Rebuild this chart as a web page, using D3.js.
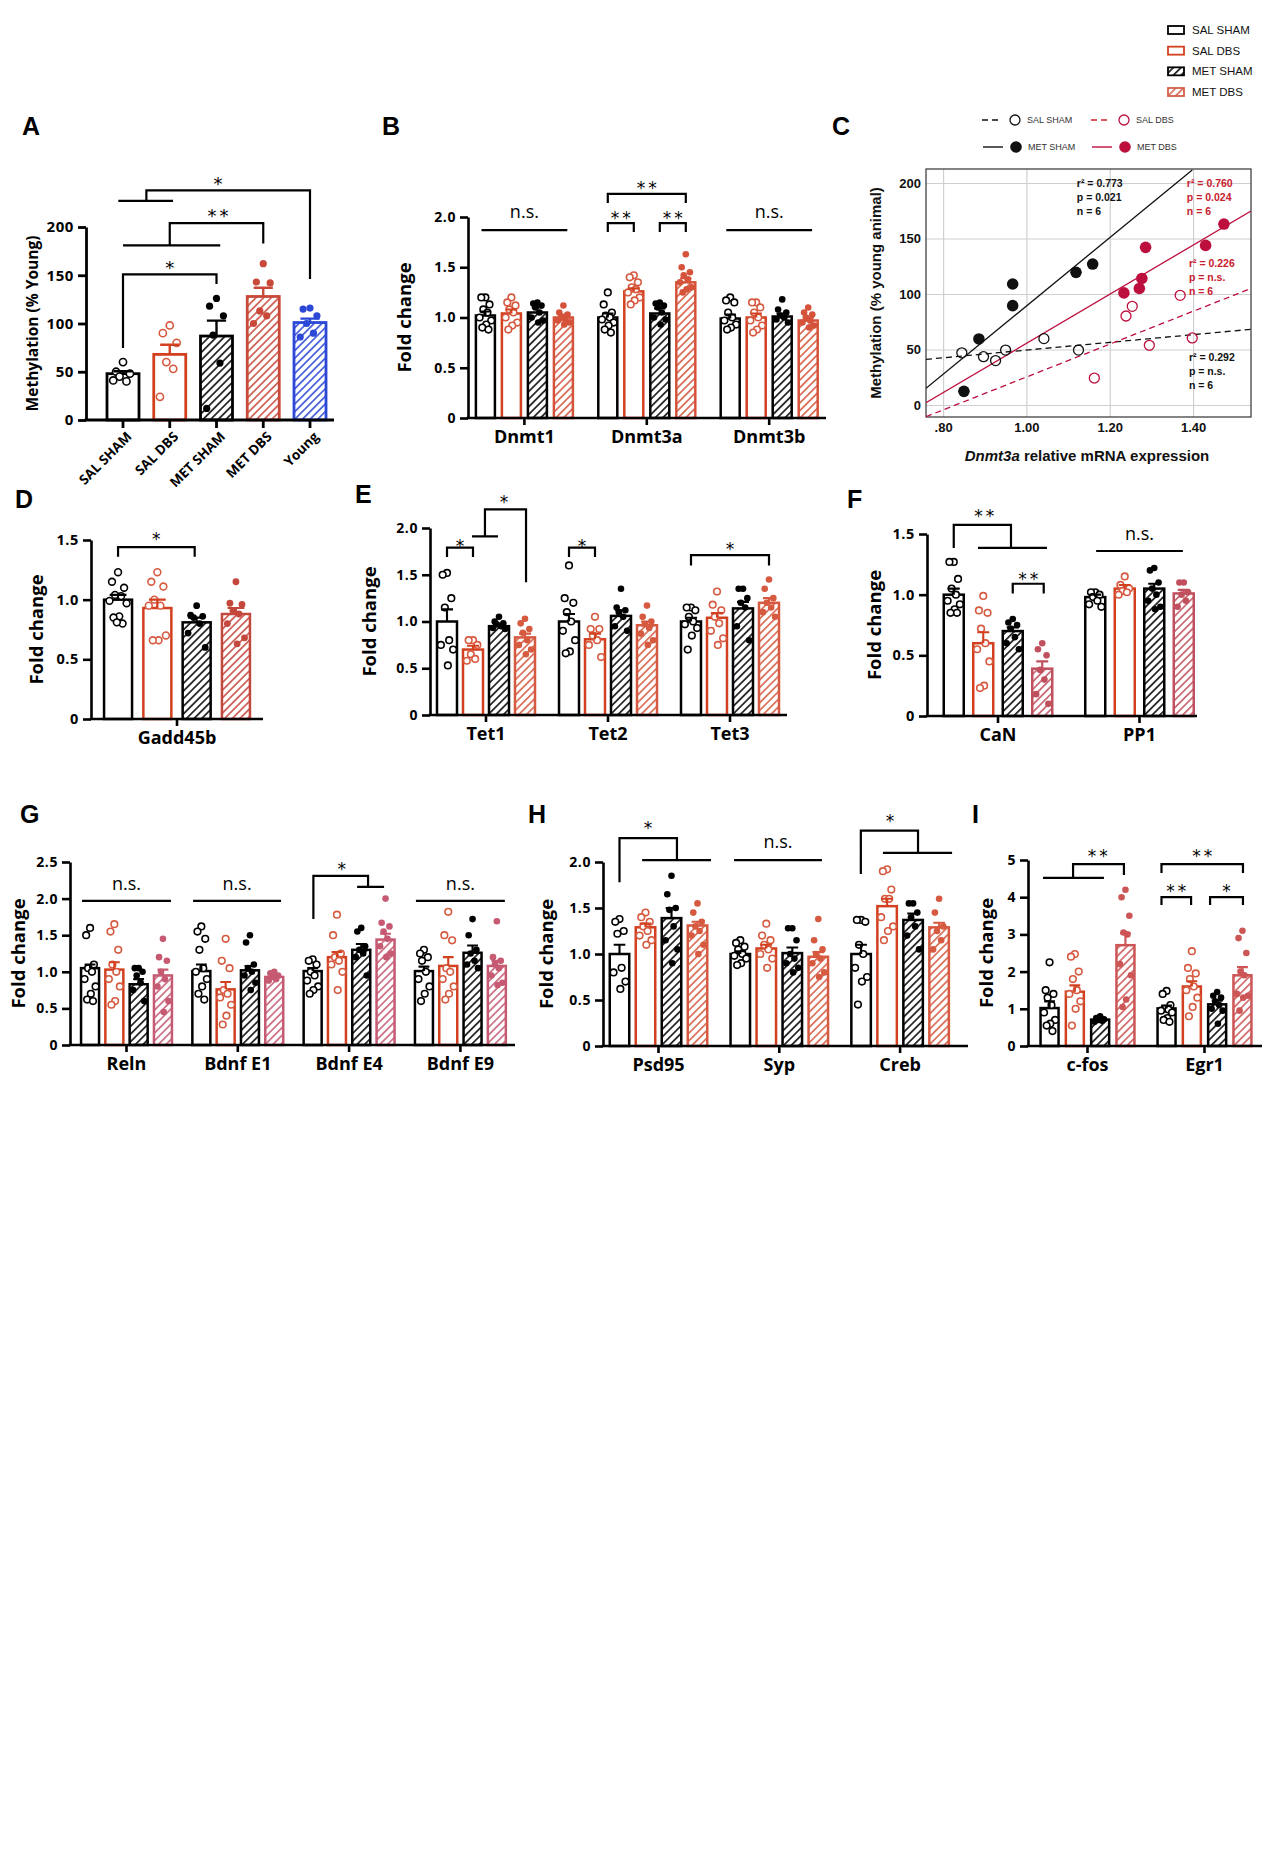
<!DOCTYPE html>
<html><head><meta charset="utf-8">
<script src="https://cdn.jsdelivr.net/npm/d3@7"></script>
<style>body{margin:0;background:#fff}svg{display:block}</style>
</head><body>
<svg id="fig" width="1286" height="1857"></svg>
<script>
// ================= DATA =================
const SERIES = ["SAL SHAM","SAL DBS","MET SHAM","MET DBS"];

// Panel A
const aCategories = ["SAL SHAM","SAL DBS","MET SHAM","MET DBS","Young"];
const aMeans = [48,68,87,128,101];
const aErrors = [2.5,10,16,9,4];
const aPoints = [[60,50,48,45,40,41],[98,90,80,60,53,24],[126,118,108,88,59,12],[162,143,142,113,108,100],[116,115,108,100,90,86]];
const aTicks = [0,50,100,150,200];

// Panel B
const bGenes = ["Dnmt1","Dnmt3a","Dnmt3b"];
const bMeans = [[1.02,1.04,1.05,1.00],[1.00,1.26,1.04,1.35],[0.99,1.00,1.01,0.97]];
const bErrors = [[0.04,0.04,0.05,0.03],[0.04,0.03,0.05,0.04],[0.04,0.04,0.03,0.03]];
const bPoints = [
 [[1.2,1.2,1.13,1.08,1.05,1.0,0.97,0.93,0.9,0.88],[1.2,1.15,1.12,1.08,1.05,1.0,0.95,0.92,0.88],[1.15,1.14,1.12,1.1,1.05,1.0,0.97,0.95],[1.12,1.05,1.03,1.0,0.98,0.97,0.95,0.93]],
 [[1.25,1.13,1.05,1.02,1.0,0.98,0.95,0.92,0.88,0.85],[1.42,1.4,1.35,1.3,1.28,1.25,1.2,1.17,1.13],[1.15,1.14,1.12,1.1,1.05,1.0,0.98,0.93],[1.63,1.5,1.45,1.42,1.38,1.35,1.3,1.28,1.25]],
 [[1.2,1.17,1.15,1.05,1.0,0.97,0.93,0.9,0.88],[1.15,1.15,1.1,1.05,1.0,0.97,0.92,0.88,0.85],[1.18,1.08,1.05,1.02,1.0,0.98,0.95],[1.1,1.05,1.03,1.0,0.97,0.95,0.92,0.9]]
];
const foldTicks2 = [0,0.5,1.0,1.5,2.0];
const foldTicks15 = [0,0.5,1.0,1.5];
const foldTicks25 = [0,0.5,1.0,1.5,2.0,2.5];
const foldTicks5 = [0,1,2,3,4,5];

// Panel C
const cSalShamX = [0.845,0.897,0.926,0.950,1.042,1.125];
const cSalShamY = [47,43.5,40,49.5,59.8,49.5];
const cMetShamX = [0.850,0.886,0.967,0.967,1.119,1.159];
const cMetShamY = [12.3,59.5,89.5,109,119.5,127];
const cSalDbsX = [1.163,1.239,1.254,1.295,1.369,1.398];
const cSalDbsY = [24.3,80.2,88.9,53.8,98.8,60.4];
const cMetDbsX = [1.234,1.271,1.277,1.286,1.430,1.474];
const cMetDbsY = [101,105,114,142,143.8,163];
const cFitX = {"SAL SHAM":[0.759,1.539],"MET SHAM":[0.759,1.398],"SAL DBS":[0.759,1.539],"MET DBS":[0.759,1.539]};
const cFitY = {"SAL SHAM":[41.1,68.2],"MET SHAM":[15,211.7],"SAL DBS":[-10.5,105],"MET DBS":[2.1,174.8]};
const cStatsText = [["r² = 0.773","p = 0.021","n = 6"],["r² = 0.760","p = 0.024","n = 6"],["r² = 0.226","p = n.s.","n = 6"],["r² = 0.292","p = n.s.","n = 6"]];
const cXTicks = [0.8,1.0,1.2,1.4];
const cYTicks = [0,50,100,150,200];

// Panel D
const dGenes = ["Gadd45b"];
const dMeans = [[1.0,0.93,0.81,0.88]];
const dErrors = [[0.04,0.07,0.04,0.05]];
const dPoints = [[[1.23,1.15,1.10,1.04,1.03,0.99,0.97,0.86,0.85,0.80,0.81],[1.23,1.15,1.11,1.0,0.95,0.95,0.70,0.66,0.66],[0.95,0.87,0.86,0.85,0.80,0.72,0.60],[1.15,0.97,0.96,0.91,0.88,0.80,0.68,0.63]]];

// Panel E
const eGenes = ["Tet1","Tet2","Tet3"];
const eMeans = [[1.0,0.70,0.95,0.83],[1.0,0.81,1.06,0.96],[1.0,1.04,1.14,1.2]];
const eErrors = [[0.13,0.04,0.02,0.04],[0.08,0.06,0.06,0.04],[0.04,0.05,0.07,0.05]];
const ePoints = [
 [[1.52,1.5,1.25,1.15,0.8,0.75,0.7,0.53],[0.8,0.8,0.75,0.65,0.6,0.58],[1.05,1.0,0.98,0.97,0.95,0.93,0.92],[1.03,0.98,0.92,0.88,0.8,0.75,0.7,0.65]],
 [[1.6,1.25,1.2,1.1,1.0,0.9,0.8,0.68,0.66],[1.05,0.92,0.92,0.85,0.8,0.75,0.62],[1.35,1.15,1.12,1.1,1.05,0.95,0.9],[1.17,1.05,1.0,0.97,0.93,0.87,0.8,0.75]],
 [[1.15,1.15,1.12,1.05,1.0,0.97,0.93,0.85,0.7],[1.32,1.18,1.12,1.05,0.98,0.9,0.82,0.75],[1.35,1.35,1.25,1.2,1.15,0.95,0.8],[1.45,1.35,1.25,1.2,1.15,1.1,1.05]]
];

// Panel F
const fGenes = ["CaN","PP1"];
const fMeans = [[1.0,0.6,0.7,0.39],[0.98,1.05,1.05,1.01]];
const fErrors = [[0.05,0.09,0.03,0.06],[0.02,0.03,0.04,0.03]];
const fPoints = [
 [[1.27,1.27,1.13,1.05,1.0,0.95,0.92,0.88,0.85,0.85],[0.99,0.87,0.85,0.72,0.6,0.55,0.45,0.25,0.23],[0.8,0.77,0.75,0.72,0.65,0.6,0.55],[0.6,0.55,0.5,0.38,0.3,0.18,0.1]],
 [[1.02,1.02,1.0,0.98,0.95,0.92,0.9],[1.15,1.08,1.05,1.03,1.02,1.0],[1.22,1.2,1.1,1.05,1.0,0.95,0.9,0.88],[1.1,1.1,1.02,1.0,0.95,0.9]]
];

// Panel G
const gGenes = ["Reln","Bdnf E1","Bdnf E4","Bdnf E9"];
const gMeans = [[1.05,1.03,0.83,0.95],[1.01,0.76,1.02,0.93],[1.01,1.2,1.3,1.44],[1.01,1.08,1.26,1.08]];
const gErrors = [[0.05,0.1,0.07,0.08],[0.09,0.1,0.06,0.04],[0.04,0.07,0.08,0.08],[0.06,0.12,0.1,0.07]];
const gPoints = [
 [[1.6,1.5,1.1,1.05,1.0,0.9,0.8,0.7,0.62,0.6],[1.65,1.55,1.3,1.1,1.0,0.9,0.8,0.6,0.55],[1.05,1.05,1.0,0.95,0.85,0.75,0.6],[1.45,1.2,1.15,1.0,0.9,0.8,0.6,0.45]],
 [[1.62,1.55,1.45,1.3,1.05,1.0,0.9,0.8,0.7,0.62],[1.45,1.15,1.05,0.75,0.7,0.65,0.55,0.4,0.28],[1.5,1.4,1.1,1.05,1.0,0.95,0.85,0.75],[1.0,0.98,0.95,0.93,0.9,0.88]],
 [[1.17,1.15,1.1,1.0,0.95,0.88,0.8,0.75,0.7],[1.78,1.5,1.25,1.2,1.15,1.1,1.0,0.75],[1.6,1.55,1.35,1.3,1.25,1.2,0.95],[2.0,1.67,1.62,1.55,1.45,1.35,1.25,1.2]],
 [[1.3,1.25,1.2,1.15,1.0,0.9,0.8,0.7,0.6],[1.82,1.5,1.43,1.05,1.0,0.9,0.8,0.7,0.62],[1.72,1.5,1.3,1.25,1.15,1.1,1.05],[1.69,1.2,1.15,1.1,1.05,0.95,0.85,0.82]]
];

// Panel H
const hGenes = ["Psd95","Syp","Creb"];
const hMeans = [[1.0,1.29,1.39,1.31],[1.0,1.06,1.01,0.97],[1.0,1.52,1.37,1.29]];
const hErrors = [[0.1,0.04,0.11,0.04],[0.03,0.04,0.06,0.05],[0.1,0.08,0.07,0.05]];
const hPoints = [
 [[1.38,1.35,1.25,1.22,0.85,0.8,0.7,0.62],[1.45,1.4,1.35,1.3,1.25,1.2,1.15,1.1],[1.85,1.65,1.5,1.48,1.3,1.15,1.05,0.9],[1.55,1.45,1.35,1.3,1.25,1.2,1.1,1.0]],
 [[1.15,1.12,1.08,1.05,1.0,0.98,0.95,0.9,0.88],[1.33,1.2,1.15,1.1,1.05,1.0,0.95,0.85],[1.28,1.28,1.15,1.0,0.95,0.9,0.85,0.8],[1.38,1.15,1.05,1.0,0.95,0.9,0.8,0.75]],
 [[1.37,1.37,1.35,1.1,1.0,0.85,0.75,0.7,0.45],[1.92,1.9,1.7,1.6,1.6,1.4,1.3,1.25,1.15],[1.55,1.55,1.45,1.4,1.3,1.2,1.05],[1.6,1.45,1.3,1.25,1.15,1.05]]
];

// Panel I
const iGenes = ["c-fos","Egr1"];
const iMeans = [[1.02,1.46,0.71,2.71],[1.01,1.6,1.12,1.9]];
const iErrors = [[0.18,0.17,0.05,0.32],[0.08,0.14,0.1,0.22]];
const iPoints = [
 [[2.25,1.5,1.4,1.3,1.1,0.9,0.7,0.6,0.55,0.4],[2.47,2.4,2.0,1.8,1.5,1.4,1.2,1.0,0.55],[0.8,0.75,0.72,0.7,0.68,0.65],[4.2,4.0,3.5,3.05,3.0,2.2,1.9,1.25,1.05]],
 [[1.48,1.4,1.1,1.0,0.98,0.95,0.9,0.75,0.7,0.65],[2.55,2.1,1.95,1.8,1.6,1.5,1.3,1.05,0.8],[1.45,1.35,1.3,1.2,1.1,1.0,0.95,0.6],[3.1,2.9,2.5,2.0,1.9,1.4,1.35,1.3,0.95]]
];

// ================= DRAWING =================
const svg = d3.select("#fig");
const defs = svg.append("defs");
const FONT = "'Open Sans', 'Noto Sans', sans-serif";
const ARIAL = "'Liberation Sans', Arial, sans-serif";
const RED = "#d2401f", RED_PT = "#d65a40";

function hatch(color){
  const id = "h" + color.replace("#","");
  if (defs.select("#"+id).empty()){
    const s = 5.4;
    const p = defs.append("pattern").attr("id",id).attr("patternUnits","userSpaceOnUse")
      .attr("width",s).attr("height",s).attr("patternTransform","rotate(45)");
    p.append("rect").attr("width",s).attr("height",s).attr("fill","#fff");
    p.append("line").attr("x1",s/2).attr("x2",s/2).attr("y1",-1).attr("y2",s+1).attr("stroke",color).attr("stroke-width",1.5);
  }
  return `url(#${id})`;
}
function stdStyles(md){
  return [
    {color:"#000", hatch:false, pt:"#000", filled:false},
    {color:RED, hatch:false, pt:RED_PT, filled:false},
    {color:"#000", hatch:true, pt:"#000", filled:true},
    {color:md, hatch:true, pt:md, filled:true}
  ];
}
function letter(t,x,y){
  svg.append("text").attr("x",x).attr("y",y).text(t).attr("font-family",ARIAL)
    .attr("font-weight","bold").attr("font-size",25).attr("fill","#000");
}
const J = [0,-0.6,0.6,-0.3,0.3,-0.85,0.85,0.12,-0.45,0.45,-0.12];

function barPanel(cfg, groups, means, errs, pts){
  const g = svg.append("g");
  const y = d3.scaleLinear().domain([0,cfg.yMax]).range([cfg.y0,cfg.yTop]);
  const nS = cfg.styles.length;
  const gx = d3.scaleBand().domain(groups).range([cfg.gc0 - cfg.gstep/2, cfg.gc0 + (groups.length-0.5)*cfg.gstep]);
  const sx = d3.scaleBand().domain(d3.range(nS)).range([-nS/2*cfg.bs, nS/2*cfg.bs])
    .paddingInner(1-cfg.bw/cfg.bs).paddingOuter((1-cfg.bw/cfg.bs)/2);
  const sl = d3.scaleLinear().domain([0,nS-1]).range([-(nS-1)/2*cfg.bs,(nS-1)/2*cfg.bs]);
  const gc = i => gx(groups[i]) + gx.bandwidth()/2;
  const xAt = (i,s) => gc(i) + sl(s);
  const bw = sx.bandwidth();

  groups.forEach((gn,gi)=>{
    means[gi].forEach((m,si)=>{
      const st = cfg.styles[si];
      g.append("rect").attr("x",gc(gi)+sx(si)).attr("y",y(m)).attr("width",bw).attr("height",y(0)-y(m))
        .attr("fill", st.hatch ? hatch(st.color) : "#fff").attr("stroke",st.color).attr("stroke-width",cfg.sw);
    });
  });
  groups.forEach((gn,gi)=>{
    pts[gi].forEach((arr,si)=>{
      const st = cfg.styles[si];
      const cx0 = gc(gi)+sx(si)+bw/2;
      arr.forEach((v,k)=>{
        const c = g.append("circle").attr("cx",cx0 + J[k%J.length]*bw*0.36).attr("cy",y(v));
        if (st.filled) c.attr("r",cfg.pr).attr("fill",st.pt);
        else c.attr("r",cfg.pr).attr("fill","#fff").attr("stroke",st.pt).attr("stroke-width",1.6);
      });
    });
  });
  groups.forEach((gn,gi)=>{
    means[gi].forEach((m,si)=>{
      const st = cfg.styles[si];
      const cx0 = gc(gi)+sx(si)+bw/2, top = y(m+errs[gi][si]), cw = bw*0.3;
      g.append("path").attr("d",`M${cx0},${y(m)}V${top}M${cx0-cw},${top}H${cx0+cw}`)
        .attr("stroke",st.color).attr("stroke-width",cfg.sw*0.85).attr("fill","none");
    });
  });
  const ya = g.append("g").attr("transform",`translate(${cfg.axisX},0)`)
    .call(d3.axisLeft(y).tickValues(cfg.ticks).tickSize(8).tickSizeOuter(0).tickPadding(4)
      .tickFormat(d => d===0 ? "0" : (cfg.intFmt ? d3.format("d")(d) : d3.format(".1f")(d))));
  ya.select(".domain").attr("stroke-width",cfg.aw).attr("stroke","#000");
  ya.selectAll(".tick line").attr("stroke-width",cfg.aw).attr("stroke","#000");
  ya.selectAll(".tick text").attr("font-family",FONT).attr("font-weight","bold")
    .attr("font-size",cfg.tfs).attr("fill","#000").attr("letter-spacing",0.6);
  g.append("line").attr("x1",cfg.axisX-cfg.aw/2).attr("x2",cfg.axisR).attr("y1",cfg.y0).attr("y2",cfg.y0)
    .attr("stroke","#000").attr("stroke-width",cfg.aw);
  if (!cfg.noGroupAxis){
    const xa = g.append("g").attr("transform",`translate(0,${cfg.y0})`)
      .call(d3.axisBottom(gx).tickSize(7).tickPadding(5));
    xa.select(".domain").remove();
    xa.selectAll(".tick line").attr("stroke-width",cfg.aw).attr("stroke","#000");
    xa.selectAll(".tick text").attr("font-family",FONT).attr("font-weight","bold")
      .attr("font-size",cfg.gfs).attr("fill","#000");
  }
  g.append("text").attr("transform",`translate(${cfg.titleX},${(cfg.y0+cfg.yTop)/2}) rotate(-90)`)
    .attr("text-anchor","middle").attr("dominant-baseline","central").text(cfg.title)
    .attr("font-family",FONT).attr("font-weight","bold").attr("font-size",cfg.yfs).attr("fill","#000");
  (cfg.brackets||[]).forEach(b=>{
    let d, lx, ly = b.ly;
    if (b.t==="line"){
      d = `M${xAt(b.g,b.s1)},${y(b.y)}H${xAt(b.g,b.s2)}`;
      lx = (xAt(b.g,b.s1)+xAt(b.g,b.s2))/2;
    } else if (b.t==="bar"){
      const x1 = xAt(b.g,b.s1), x2 = xAt(b.g,b.s2);
      d = `M${x1},${y(b.l1)}V${y(b.y)}H${x2}V${y(b.l2)}`;
      lx = (x1+x2)/2;
    } else {
      d = `M${xAt(b.g,b.b1)},${y(b.by)}H${xAt(b.g,b.b2)}M${xAt(b.g,b.stem)},${y(b.by)}V${y(b.top)}H${xAt(b.g,b.end)}V${y(b.endY)}`;
      lx = xAt(b.g,b.lx);
    }
    g.append("path").attr("d",d).attr("stroke","#000").attr("stroke-width",cfg.bkw).attr("fill","none");
    if (b.label==="n.s."){
      g.append("text").attr("x",lx).attr("y",y(ly)+0.28*18).attr("text-anchor","middle").text("n.s.")
        .attr("font-family",FONT).attr("font-size",18).attr("fill","#000");
    } else {
      g.append("text").attr("x",lx+(b.label.length>1?1.5:0)).attr("y",y(ly)+0.6*cfg.sfs).attr("text-anchor","middle").text(b.label)
        .attr("font-family","'DejaVu Sans', sans-serif").attr("font-size",cfg.sfs).attr("letter-spacing",b.label.length>1?3:0).attr("fill","#000");
    }
  });
  return {g, y, gc, xAt, sx, bw};
}

// ---------- Panel A ----------
letter("A",22,135);
{
  const styles = [
    {color:"#000", hatch:false, pt:"#000", filled:false},
    {color:RED, hatch:false, pt:RED_PT, filled:false},
    {color:"#000", hatch:true, pt:"#000", filled:true},
    {color:"#c8493a", hatch:true, pt:"#c8493a", filled:true},
    {color:"#2b48d6", hatch:true, pt:"#2b48d6", filled:true}
  ];
  const res = barPanel({
    axisX:86, axisR:334, y0:420, yTop:227, yMax:200, ticks:aTicks, intFmt:true,
    gc0:216.5, gstep:260, bs:46.75, bw:32, styles, sw:2.8, aw:2.8, pr:3.6,
    tfs:15, gfs:14, yfs:15.5, sfs:18, bkw:2.2, titleX:32, title:"Methylation (% Young)", noGroupAxis:true,
    brackets:[
      {t:"bar", g:0, s1:0, s2:2, y:151, l1:74.6, l2:141, label:"*", ly:163},
      {t:"comb", g:0, b1:0, b2:2.08, by:181, stem:1, top:204, end:3, endY:183, label:"**", lx:2.03, ly:216},
      {t:"comb", g:0, b1:-0.1, b2:1.07, by:227, stem:0.5, top:238, end:4, endY:146, label:"*", lx:2.03, ly:250}
    ]
  }, [""], [aMeans], [aErrors], [aPoints]);
  const cat = d3.scaleBand().domain(aCategories).range([123-46.75/2, 310+46.75/2]);
  const xa = res.g.append("g").attr("transform","translate(0,420)").call(d3.axisBottom(cat).tickSize(8).tickFormat(""));
  xa.select(".domain").remove();
  xa.selectAll(".tick line").attr("stroke-width",2.8).attr("stroke","#000");
  aCategories.forEach(c=>{
    const cx = cat(c)+cat.bandwidth()/2;
    res.g.append("text").attr("transform",`translate(${cx+6},${434}) rotate(-45)`).attr("text-anchor","end")
      .attr("dominant-baseline","central").text(c).attr("font-family",FONT).attr("font-weight","bold")
      .attr("font-size",13.5).attr("fill","#000");
  });
}

// ---------- Panel B ----------
letter("B",382,135);
barPanel({
  axisX:468, axisR:826, y0:418, yTop:217, yMax:2.0, ticks:foldTicks2,
  gc0:524.4, gstep:122.4, bs:26, bw:19, styles:stdStyles("#d4533a"), sw:2.5, aw:2.6, pr:3.3,
  tfs:14, gfs:18, yfs:18.5, sfs:17, bkw:2.2, titleX:403, title:"Fold change",
  brackets:[
    {t:"line", g:0, s1:-0.15, s2:3.15, y:1.87, label:"n.s.", ly:2.04},
    {t:"bar", g:1, s1:0, s2:1, y:1.94, l1:1.85, l2:1.85, label:"**", ly:2.03},
    {t:"bar", g:1, s1:2, s2:3, y:1.94, l1:1.85, l2:1.85, label:"**", ly:2.03},
    {t:"bar", g:1, s1:0, s2:3, y:2.23, l1:2.14, l2:2.14, label:"**", ly:2.33},
    {t:"line", g:2, s1:-0.15, s2:3.15, y:1.87, label:"n.s.", ly:2.04}
  ]
}, bGenes, bMeans, bErrors, bPoints);

// ---------- Panel C ----------
letter("C",832,135);
{
  const g = svg.append("g");
  const L=926, R=1251, T=169, B=417;
  const x = d3.scaleLinear().domain([0.759,1.539]).range([L,R]);
  const y = d3.scaleLinear().domain([-10.8,212.6]).range([B,T]);
  const CRIM = "#bd0f3e";
  const xa = g.append("g").attr("transform",`translate(0,${B})`)
    .call(d3.axisBottom(x).tickValues(cXTicks).tickSize(-(B-T)).tickPadding(6)
      .tickFormat(d => d<1 ? ".80" : d3.format(".2f")(d)));
  xa.select(".domain").remove();
  xa.selectAll(".tick line").attr("stroke","#cfcfcf").attr("stroke-width",1.2);
  xa.selectAll(".tick text").attr("font-family",ARIAL).attr("font-weight","bold").attr("font-size",13).attr("fill","#111");
  const ya = g.append("g").attr("transform",`translate(${L},0)`)
    .call(d3.axisLeft(y).tickValues(cYTicks).tickSize(-(R-L)).tickPadding(5).tickFormat(d3.format("d")));
  ya.select(".domain").remove();
  ya.selectAll(".tick line").attr("stroke","#cfcfcf").attr("stroke-width",1.2);
  ya.selectAll(".tick text").attr("font-family",ARIAL).attr("font-weight","bold").attr("font-size",13).attr("fill","#111");
  g.append("rect").attr("x",L).attr("y",T).attr("width",R-L).attr("height",B-T).attr("fill","none").attr("stroke","#333").attr("stroke-width",1.2);
  defs.append("clipPath").attr("id","cclip").append("rect").attr("x",L).attr("y",T).attr("width",R-L).attr("height",B-T);
  const lg = g.append("g").attr("clip-path","url(#cclip)");
  const lineStyle = {"SAL SHAM":{c:"#111",dash:"6,4"},"SAL DBS":{c:CRIM,dash:"6,4"},"MET SHAM":{c:"#111",dash:null},"MET DBS":{c:CRIM,dash:null}};
  SERIES.forEach(s=>{
    const ln = lg.append("line").attr("x1",x(cFitX[s][0])).attr("y1",y(cFitY[s][0])).attr("x2",x(cFitX[s][1])).attr("y2",y(cFitY[s][1]))
      .attr("stroke",lineStyle[s].c).attr("stroke-width",1.3);
    if (lineStyle[s].dash) ln.attr("stroke-dasharray",lineStyle[s].dash);
  });
  function pts(xs,ys,color,filled){
    xs.forEach((v,i)=>{
      const c = g.append("circle").attr("cx",x(v)).attr("cy",y(ys[i]));
      if (filled) c.attr("r",5.8).attr("fill",color);
      else c.attr("r",5).attr("fill","none").attr("stroke",color).attr("stroke-width",1.3);
    });
  }
  pts(cSalShamX,cSalShamY,"#111",false);
  pts(cSalDbsX,cSalDbsY,CRIM,false);
  pts(cMetShamX,cMetShamY,"#111",true);
  pts(cMetDbsX,cMetDbsY,CRIM,true);
  const statPos = [[1.121,200,"#111"],[1.385,200,"#c8202e"],[1.390,128,"#c8202e"],[1.390,43,"#111"]];
  cStatsText.forEach((lines,i)=>{
    lines.forEach((t,k)=>{
      g.append("text").attr("x",x(statPos[i][0])).attr("y",y(statPos[i][1])+k*14).attr("dominant-baseline","central")
        .text(t).attr("font-family",ARIAL).attr("font-weight","bold").attr("font-size",10.5).attr("fill",statPos[i][2]);
    });
  });
  g.append("text").attr("transform",`translate(875,293) rotate(-90)`).attr("text-anchor","middle").attr("dominant-baseline","central")
    .text("Methylation (% young animal)").attr("font-family",ARIAL).attr("font-weight","bold").attr("font-size",15).attr("fill","#111");
  const xt = g.append("text").attr("x",1087).attr("y",455).attr("text-anchor","middle").attr("dominant-baseline","central")
    .attr("font-family",ARIAL).attr("font-weight","bold").attr("font-size",15).attr("fill","#111");
  xt.append("tspan").attr("font-style","italic").text("Dnmt3a");
  xt.append("tspan").text(" relative mRNA expression");
  const leg = [
    {s:"SAL SHAM", x:982, y:120, c:"#111", dash:"6,4", filled:false},
    {s:"SAL DBS", x:1091, y:120, c:"#d4202c", dash:"6,4", filled:false, cc:CRIM},
    {s:"MET SHAM", x:983, y:147, c:"#111", dash:null, filled:true},
    {s:"MET DBS", x:1092, y:147, c:CRIM, dash:null, filled:true}
  ];
  leg.forEach(l=>{
    const ln = g.append("line").attr("x1",l.x).attr("x2",l.x+20).attr("y1",l.y).attr("y2",l.y).attr("stroke",l.c).attr("stroke-width",1.4);
    if (l.dash) ln.attr("stroke-dasharray",l.dash);
    const c = g.append("circle").attr("cx",l.x+33).attr("cy",l.y);
    if (l.filled) c.attr("r",5.8).attr("fill",l.c);
    else c.attr("r",5).attr("fill","none").attr("stroke",l.cc||l.c).attr("stroke-width",1.3);
    g.append("text").attr("x",l.x+45).attr("y",l.y).attr("dominant-baseline","central").text(l.s)
      .attr("font-family",ARIAL).attr("font-size",9).attr("fill","#333");
  });
}

// ---------- Top-right legend ----------
{
  const g = svg.append("g");
  const ls = [
    {s:"SAL SHAM", c:"#000", h:false},
    {s:"SAL DBS", c:RED, h:false},
    {s:"MET SHAM", c:"#000", h:true},
    {s:"MET DBS", c:"#d4604a", h:true}
  ];
  const ly = d3.scalePoint().domain(SERIES).range([30,92]);
  ls.forEach(l=>{
    g.append("rect").attr("x",1168).attr("y",ly(l.s)-4).attr("width",16).attr("height",8)
      .attr("fill", l.h ? hatch(l.c) : "#fff").attr("stroke",l.c).attr("stroke-width",1.8);
    g.append("text").attr("x",1192).attr("y",ly(l.s)).attr("dominant-baseline","central").text(l.s)
      .attr("font-family",ARIAL).attr("font-size",11.5).attr("fill","#111");
  });
}

// ---------- Panel D ----------
letter("D",15,508);
barPanel({
  axisX:91, axisR:263, y0:719, yTop:540, yMax:1.5, ticks:foldTicks15,
  gc0:177, gstep:170, bs:39.3, bw:28, styles:stdStyles("#c4473c"), sw:2.5, aw:2.6, pr:3.4,
  tfs:14.5, gfs:18, yfs:18.5, sfs:17, bkw:2.2, titleX:35, title:"Fold change",
  brackets:[{t:"bar", g:0, s1:0, s2:1.95, y:1.44, l1:1.36, l2:1.36, label:"*", ly:1.54}]
}, dGenes, dMeans, dErrors, dPoints);

// ---------- Panel E ----------
letter("E",355,503);
barPanel({
  axisX:430, axisR:787, y0:715, yTop:528, yMax:2.0, ticks:foldTicks2,
  gc0:486, gstep:122, bs:26, bw:20, styles:stdStyles("#d65a40"), sw:2.5, aw:2.6, pr:3.3,
  tfs:14, gfs:18, yfs:18.5, sfs:17, bkw:2.2, titleX:368, title:"Fold change",
  brackets:[
    {t:"bar", g:0, s1:0, s2:1, y:1.79, l1:1.69, l2:1.69, label:"*", ly:1.85},
    {t:"comb", g:0, b1:0.96, b2:1.96, by:1.91, stem:1.46, top:2.20, end:3.04, endY:1.42, label:"*", lx:2.19, ly:2.32},
    {t:"bar", g:1, s1:0, s2:1, y:1.79, l1:1.69, l2:1.69, label:"*", ly:1.85},
    {t:"bar", g:2, s1:0, s2:3, y:1.71, l1:1.60, l2:1.60, label:"*", ly:1.82}
  ]
}, eGenes, eMeans, eErrors, ePoints);

// ---------- Panel F ----------
letter("F",847,508);
barPanel({
  axisX:927, axisR:1197, y0:716, yTop:534, yMax:1.5, ticks:foldTicks15,
  gc0:998, gstep:141.5, bs:29.5, bw:20, styles:stdStyles("#c0505e"), sw:2.5, aw:2.6, pr:3.3,
  tfs:14.5, gfs:18, yfs:18.5, sfs:17, bkw:2.2, titleX:873, title:"Fold change",
  brackets:[
    {t:"comb", g:0, b1:0.82, b2:3.16, by:1.385, stem:1.94, top:1.575, end:0, endY:1.385, label:"**", lx:1.03, ly:1.68},
    {t:"bar", g:0, s1:2, s2:3.05, y:1.09, l1:1.01, l2:1.01, label:"**", ly:1.16},
    {t:"line", g:1, s1:0.03, s2:2.97, y:1.36, label:"n.s.", ly:1.49}
  ]
}, fGenes, fMeans, fErrors, fPoints);

// ---------- Panel G ----------
letter("G",20,823);
barPanel({
  axisX:70, axisR:515, y0:1045, yTop:862, yMax:2.5, ticks:foldTicks25,
  gc0:126.5, gstep:111.3, bs:24.3, bw:18, styles:stdStyles("#c55a72"), sw:2.5, aw:2.6, pr:3.3,
  tfs:14, gfs:18, yfs:18.5, sfs:17, bkw:2.2, titleX:17, title:"Fold change",
  brackets:[
    {t:"line", g:0, s1:-0.33, s2:3.33, y:1.97, label:"n.s.", ly:2.19},
    {t:"line", g:1, s1:-0.34, s2:3.28, y:1.97, label:"n.s.", ly:2.19},
    {t:"comb", g:2, b1:1.83, b2:2.94, by:2.16, stem:2.28, top:2.31, end:0.03, endY:1.72, label:"*", lx:1.2, ly:2.46},
    {t:"line", g:3, s1:-0.33, s2:3.33, y:1.97, label:"n.s.", ly:2.19}
  ]
}, gGenes, gMeans, gErrors, gPoints);

// ---------- Panel H ----------
letter("H",528,823);
barPanel({
  axisX:603, axisR:968, y0:1046, yTop:862, yMax:2.0, ticks:foldTicks2,
  gc0:658.5, gstep:120.8, bs:26, bw:19.5, styles:stdStyles("#d65a40"), sw:2.5, aw:2.6, pr:3.3,
  tfs:14, gfs:18, yfs:18.5, sfs:17, bkw:2.2, titleX:545, title:"Fold change",
  brackets:[
    {t:"comb", g:0, b1:0.87, b2:3.52, by:2.02, stem:2.21, top:2.26, end:0, endY:1.78, label:"*", lx:1.1, ly:2.42},
    {t:"line", g:1, s1:-0.24, s2:3.14, y:2.02, label:"n.s.", ly:2.21},
    {t:"comb", g:2, b1:0.84, b2:3.5, by:2.10, stem:2.19, top:2.34, end:-0.01, endY:1.87, label:"*", lx:1.11, ly:2.49}
  ]
}, hGenes, hMeans, hErrors, hPoints);

// ---------- Panel I ----------
letter("I",972,823);
barPanel({
  axisX:1028, axisR:1262, y0:1046, yTop:860, yMax:5, ticks:foldTicks5, intFmt:true,
  gc0:1087.5, gstep:117, bs:25.3, bw:18, styles:stdStyles("#cc5555"), sw:2.5, aw:2.6, pr:3.3,
  tfs:14, gfs:18, yfs:18.5, sfs:17, bkw:2.2, titleX:985, title:"Fold change",
  brackets:[
    {t:"comb", g:0, b1:-0.26, b2:2.15, by:4.52, stem:0.93, top:4.89, end:2.94, endY:4.6, label:"**", lx:1.91, ly:5.22},
    {t:"bar", g:1, s1:-0.2, s2:3.02, y:4.89, l1:4.65, l2:4.65, label:"**", ly:5.22},
    {t:"bar", g:1, s1:-0.2, s2:0.97, y:4.0, l1:3.79, l2:3.79, label:"**", ly:4.27},
    {t:"bar", g:1, s1:1.72, s2:3.02, y:4.0, l1:3.79, l2:3.79, label:"*", ly:4.27}
  ]
}, iGenes, iMeans, iErrors, iPoints);
</script>
</body></html>
